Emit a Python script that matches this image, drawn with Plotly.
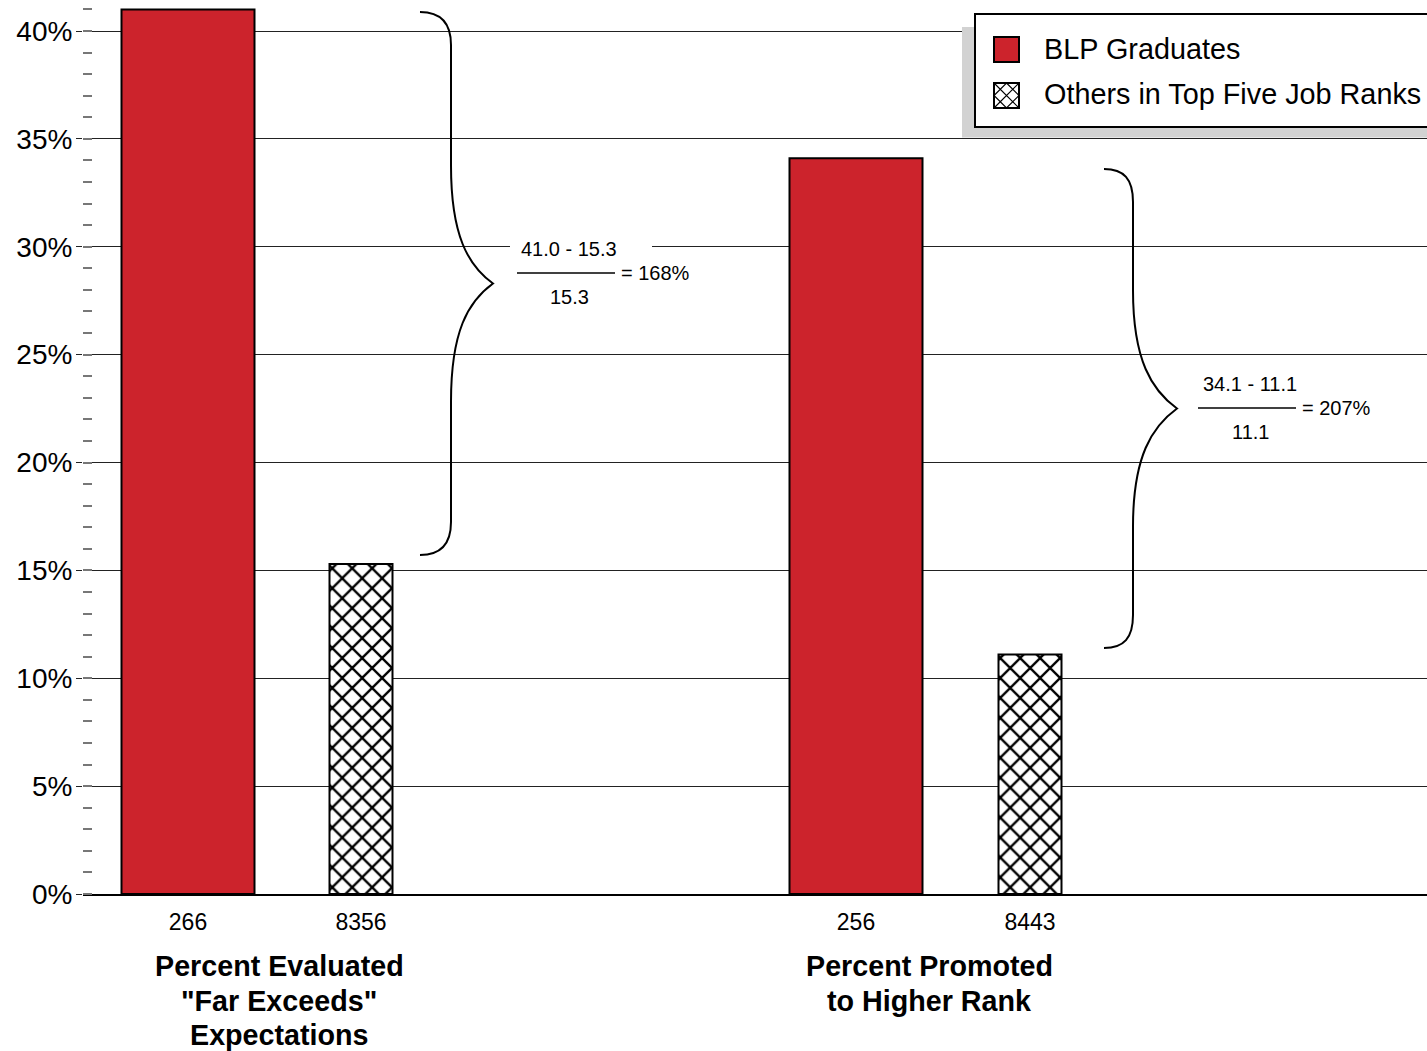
import plotly.graph_objects as go

# ---- data ----
group_titles = [
    ["Percent Evaluated", "\"Far Exceeds\"", "Expectations"],
    ["Percent Promoted", "to Higher Rank"],
]
blp_pct = [41.0, 34.1]
others_pct = [15.3, 11.1]
blp_n = [266, 256]
others_n = [8356, 8443]
series_names = ["BLP Graduates", "Others in Top Five Job Ranks"]
y_ticks = [0, 5, 10, 15, 20, 25, 30, 35, 40]

# ---- layout geometry (x axis in units of 100 px) ----
blp_x = [1.05, 7.73]
others_x = [2.78, 9.47]
blp_width = 1.33
others_width = 0.63
title_x = [1.96, 8.46]

RED = "#cc232c"
FONT = "Liberation Sans, Arial, sans-serif"

W, H = 1427, 1051
L, R, T, B = 83, 0, 0, 157
PW, PH = W - L - R, H - T - B


def px(p):
    return (p - L) / PW


def py(p):
    return (T + PH - p) / PH


fig = go.Figure()
fig.add_trace(go.Bar(
    name=series_names[0], x=blp_x, y=blp_pct, width=blp_width,
    marker=dict(color=RED, line=dict(color="black", width=2)),
    showlegend=False,
))
fig.add_trace(go.Bar(
    name=series_names[1], x=others_x, y=others_pct, width=others_width,
    marker=dict(color="white", line=dict(color="black", width=2),
                pattern=dict(shape="x", fgcolor="black", bgcolor="white",
                             fgopacity=1, size=14.1, solidity=0.3)),
    showlegend=False,
))

shapes = []
annotations = []


def path_from(points_cmds):
    out = []
    for cmd, pts in points_cmds:
        coords = " ".join(f"{px(x):.5f},{py(y):.5f}" for x, y in pts)
        out.append(f"{cmd}{coords}")
    return " ".join(out)


def brace(x_end, x_stem, x_tip, y_top, y_bot):
    y_mid = (y_top + y_bot) / 2
    cmds = [
        ("M", [(x_end, y_top)]),
        ("C", [(x_end + 20, y_top), (x_stem, y_top + 10), (x_stem, y_top + 33)]),
        ("L", [(x_stem, y_mid - 118)]),
        ("C", [(x_stem, y_mid - 48), (x_tip - 25, y_mid - 18), (x_tip, y_mid)]),
        ("C", [(x_tip - 25, y_mid + 18), (x_stem, y_mid + 48), (x_stem, y_mid + 118)]),
        ("L", [(x_stem, y_bot - 33)]),
        ("C", [(x_stem, y_bot - 10), (x_end + 20, y_bot), (x_end, y_bot)]),
    ]
    return dict(type="path", xref="paper", yref="paper", path=path_from(cmds),
                line=dict(color="black", width=2), layer="above")


def fraction(hi, lo, cx, cy, gap_box=None):
    pct = round((hi - lo) / lo * 100)
    if gap_box:
        x0, x1 = gap_box
        shapes.append(dict(type="rect", xref="paper", yref="paper",
                           x0=px(x0), x1=px(x1), y0=py(cy - 14), y1=py(cy - 34),
                           fillcolor="white", line=dict(width=0), layer="above"))
    annotations.append(dict(xref="paper", yref="paper", x=px(cx), y=py(cy - 24),
                            text=f"{hi:.1f} - {lo:.1f}", showarrow=False,
                            xanchor="center", yanchor="middle",
                            font=dict(size=20, family=FONT, color="black")))
    annotations.append(dict(xref="paper", yref="paper", x=px(cx), y=py(cy + 24),
                            text=f"{lo:.1f}", showarrow=False,
                            xanchor="center", yanchor="middle",
                            font=dict(size=20, family=FONT, color="black")))
    shapes.append(dict(type="line", xref="paper", yref="paper",
                       x0=px(cx - 52), x1=px(cx + 46), y0=py(cy), y1=py(cy),
                       line=dict(color="black", width=1.5), layer="above"))
    annotations.append(dict(xref="paper", yref="paper", x=px(cx + 50), y=py(cy),
                            text=f"= {pct}%", showarrow=False,
                            xanchor="left", yanchor="middle",
                            font=dict(size=20, family=FONT, color="black")))


# braces and percentage-difference formulas
shapes.append(brace(420, 451, 493, 12, 555))
shapes.append(brace(1104, 1133, 1177, 169, 648))
fraction(blp_pct[0], others_pct[0], 569, 273, gap_box=(510, 652))
fraction(blp_pct[1], others_pct[1], 1250, 408)

# legend box with drop shadow
shapes.append(dict(type="rect", xref="paper", yref="paper",
                   x0=px(962), x1=px(1445), y0=py(27), y1=py(137.5),
                   fillcolor="#d2d2d2", line=dict(width=0), layer="above"))
shapes.append(dict(type="rect", xref="paper", yref="paper",
                   x0=px(975), x1=px(1445), y0=py(14), y1=py(127),
                   fillcolor="white", line=dict(color="black", width=2), layer="above"))
shapes.append(dict(type="rect", xref="paper", yref="paper",
                   x0=px(994), x1=px(1019), y0=py(37), y1=py(62),
                   fillcolor=RED, line=dict(color="black", width=2), layer="above"))
sx0, sx1, sy0, sy1 = 994, 1019, 83, 108
mx, my = (sx0 + sx1) / 2, (sy0 + sy1) / 2
shapes.append(dict(type="rect", xref="paper", yref="paper",
                   x0=px(sx0), x1=px(sx1), y0=py(sy0), y1=py(sy1),
                   fillcolor="white", line=dict(color="black", width=2), layer="above"))
hatch = [
    ("M", [(sx0, sy0)]), ("L", [(sx1, sy1)]),
    ("M", [(sx0, sy1)]), ("L", [(sx1, sy0)]),
    ("M", [(mx, sy0)]), ("L", [(sx1, my)]), ("L", [(mx, sy1)]), ("L", [(sx0, my)]), ("Z", []),
]
shapes.append(dict(type="path", xref="paper", yref="paper", path=path_from(hatch),
                   line=dict(color="black", width=1.2), layer="above"))
for name, ty in zip(series_names, [49, 94]):
    annotations.append(dict(xref="paper", yref="paper", x=px(1042), y=py(ty),
                            text=name, showarrow=False, xanchor="left", yanchor="middle",
                            font=dict(size=28.8, family=FONT, color="black")))

# group titles under the axis
for gx, lines in zip(title_x, group_titles):
    for i, line in enumerate(lines):
        annotations.append(dict(xref="x", yref="paper", x=gx, y=py(966 + 34.5 * i),
                                text=f"<b>{line}</b>", showarrow=False,
                                xanchor="center", yanchor="middle",
                                font=dict(size=28.7, family=FONT, color="black")))

fig.update_layout(
    width=W, height=H,
    margin=dict(l=L, r=R, t=T, b=B, pad=0),
    paper_bgcolor="white", plot_bgcolor="white",
    barmode="overlay",
    shapes=shapes, annotations=annotations,
    font=dict(family=FONT, color="black"),
    xaxis=dict(range=[0, PW / 100], tickmode="array",
               tickvals=blp_x + others_x,
               ticktext=[str(v) for v in blp_n + others_n],
               tickfont=dict(size=23, family=FONT, color="black"),
               ticks="", showgrid=False, zeroline=False,
               showline=True, linecolor="black", linewidth=1.5,
               ticklabelstandoff=7),
    yaxis=dict(range=[0, PH / (894 - 31) * 40], tickmode="array",
               tickvals=y_ticks, ticktext=[f"{v}%" for v in y_ticks],
               tickfont=dict(size=28, family=FONT, color="black"),
               ticks="outside", ticklen=6, tickcolor="#222", tickwidth=1,
               showgrid=True, gridcolor="#222", gridwidth=1,
               zeroline=False, showline=False,
               minor=dict(dtick=1, ticks="inside", ticklen=9, tickcolor="#777",
                          tickwidth=1.5, showgrid=False),
               ticklabelstandoff=-2),
)

fig.write_html("out.html")
